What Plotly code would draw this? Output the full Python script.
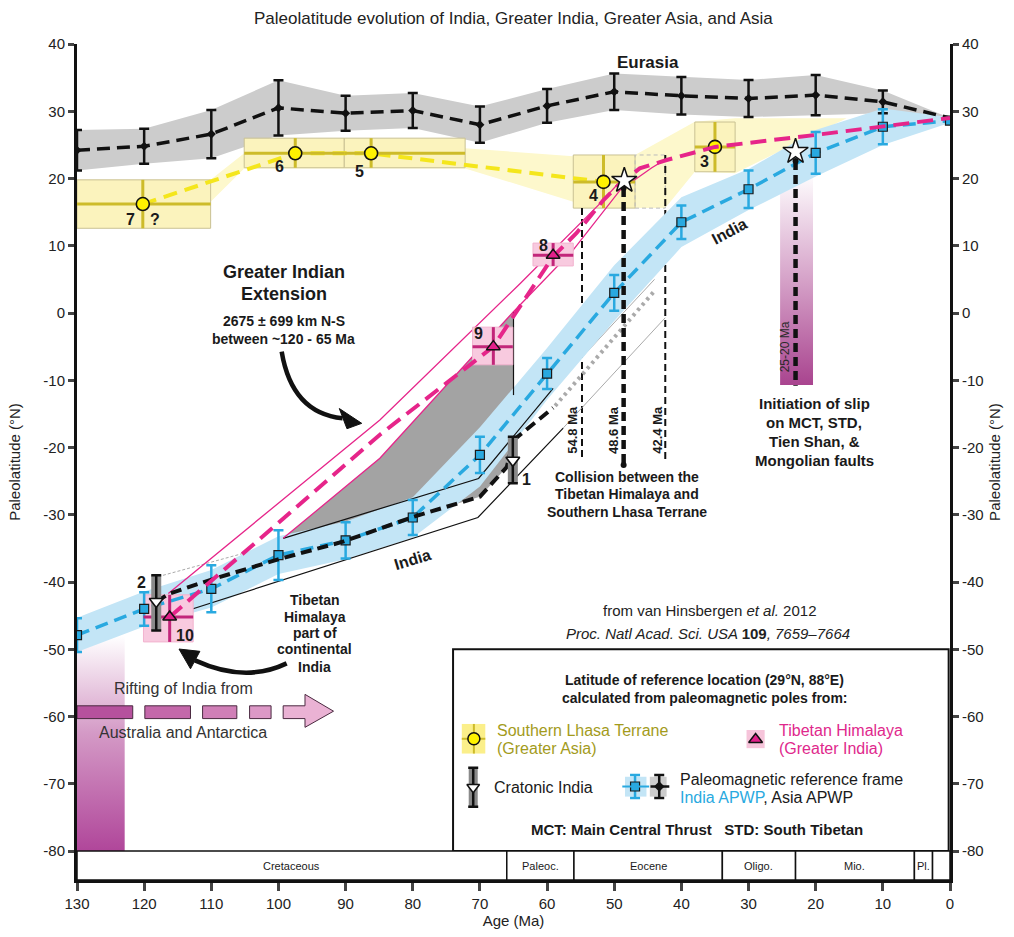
import plotly.graph_objects as go

FONT = "Liberation Sans, Arial, sans-serif"
NARROW = "Liberation Sans Narrow, Liberation Sans, Arial, sans-serif"

# ---------------- data ----------------
apwp_age = [130, 120, 110, 100, 90, 80, 70, 60, 50, 40, 30, 20, 10, 0]
asia_lat = [24.2, 24.8, 26.6, 30.5, 29.7, 30.1, 28.0, 30.8, 32.9, 32.3, 31.9, 32.4, 31.4, 29.0]
asia_err = [3.0, 2.6, 3.6, 4.1, 2.6, 2.6, 2.7, 2.5, 2.7, 2.8, 2.75, 3.0, 1.7, 0.0]
india_lat = [-47.9, -44.0, -41.0, -36.0, -33.8, -30.4, -21.1, -9.0, 3.0, 13.5, 18.4, 23.8, 27.7, 28.6]
india_err = [2.5, 2.5, 3.5, 3.7, 2.7, 2.6, 2.7, 2.3, 2.65, 2.5, 2.8, 3.1, 2.6, 0.0]
india_band_hi = [-45.3, -41.4, -38.2, -33.2, -31.0, -27.4, -17.0, -5.2, 7.1, 17.2, 21.4, 27.2, 30.4, 29.1]
india_band_lo = [-50.4, -46.6, -43.8, -38.8, -36.6, -33.4, -25.8, -12.9, -1.2, 9.8, 15.3, 20.3, 25.0, 28.3]

# Southern Lhasa terrane (Greater Asia)
lhasa_id = ["7", "6", "5", "4", "3"]
lhasa_age = [120.2, 97.5, 86.2, 51.6, 35.0]
lhasa_lat = [16.2, 23.75, 23.75, 19.5, 24.7]
lhasa_age_old = [130.0, 105.1, 90.2, 56.1, 38.0]
lhasa_age_young = [110.1, 90.2, 72.2, 46.9, 32.0]
lhasa_lat_lo = [12.6, 21.6, 21.6, 15.6, 21.0]
lhasa_lat_hi = [19.8, 26.0, 26.0, 23.5, 28.4]
lhasa_band_up_age = [130, 110.1, 105.1, 72.2, 56.1, 46.9, 38.0, 32.0, 15.4]
lhasa_band_up_lat = [19.8, 19.8, 23.75, 24.5, 23.3, 23.5, 28.45, 28.95, 28.95]
lhasa_band_lo_age = [15.4, 32.0, 38.0, 42.4, 46.9, 56.1, 72.2, 105.1, 110.1, 130]
lhasa_band_lo_lat = [28.95, 20.8, 21.0, 15.6, 15.6, 16.55, 21.5, 21.5, 16.55, 12.6]

# Tibetan Himalaya (Greater India)
th_id = ["10", "9", "8"]
th_age = [116.2, 68.0, 59.1]
th_lat = [-45.2, -5.0, 8.6]
th_age_old = [120.1, 71.1, 62.1]
th_age_young = [112.7, 65.1, 56.1]
th_lat_lo = [-48.9, -7.7, 7.0]
th_lat_hi = [-41.9, -2.1, 10.4]
th_path_age = [116.2, 84.9, 68.0, 59.1, 55.6, 51.6, 49.1, 46.2, 42.2, 37.2, 35.0, 19.85, 10.0, 0.0]
th_path_lat = [-45.2, -18.1, -5.0, 8.4, 11.9, 16.8, 19.3, 21.5, 22.75, 24.0, 24.7, 26.5, 27.7, 29.0]
th_env_up_age = [116.4, 84.9, 64.0, 52.1, 49.1]
th_env_up_lat = [-41.7, -15.9, 4.4, 16.3, 19.6]
th_env_lo_age = [99.3, 84.9, 65.0, 56.1, 49.1, 44.4, 42.1]
th_env_lo_lat = [-33.5, -21.6, 0.2, 9.4, 18.3, 21.6, 23.0]

# Greater Indian extension polygon
gi_poly_age = [99.3, 84.9, 65.0, 65.0, 66.0, 70.0, 79.9, 90.4, 99.3]
gi_poly_lat = [-33.5, -21.6, 0.2, -18.9, -22.9, -27.3, -30.3, -34.0, -36.7]

# Cratonic India
crat_id = ["1", "2"]
crat_age = [65.1, 118.2]
crat_lat = [-21.9, -42.9]
crat_lat_lo = [-25.3, -47.2]
crat_lat_hi = [-18.4, -39.0]
crat_path_age = [118.2, 116.2, 110.2, 100.3, 90.4, 79.9, 70.0, 66.0, 65.0, 59.1]
crat_path_lat = [-42.9, -41.7, -39.7, -36.7, -34.0, -30.3, -27.3, -22.9, -18.9, -14.1]

# India outline
india_n_age = [99.3, 70.2, 59.1]
india_n_lat = [-33.5, -24.6, -11.2]
india_s_age = [114.7, 70.3, 57.6]
india_s_lat = [-44.6, -30.4, -17.1]
india_n_ext_age = [59.1, 44.0]
india_n_ext_lat = [-11.2, 5.0]
india_s_ext_age = [57.6, 42.4]
india_s_ext_lat = [-17.1, -0.7]
india_mid_age = [58.8, 43.9]
india_mid_lat = [-13.8, 3.4]
link_age = [117.2, 100.0]
link_lat = [-39.0, -34.3]

# collision / slip
coll_age = [54.8, 48.6, 42.4]
coll_top = [15.6, 18.6, 23.5]
coll_bot = [-21.6, -22.6, -21.9]
coll_lbl = ["54.8 Ma", "48.6 Ma", "42.4 Ma"]
slip_age = [23.0]
slip_top = [22.6]
slip_bot = [-10.8]
slip_bar_age = [25.3, 20.4]
slip_bar_lat = [21.0, -10.7]
star_age = [48.5, 23.0]
star_lat = [19.7, 24.0]

# rifting of India
rift_bar_age = [130.0, 122.9]
rift_bar_lat = [-48.0, -80.0]
rift_old = [130.0, 119.9, 111.3, 104.3]
rift_young = [121.7, 113.1, 106.2, 101.1]
rift_col = ["#b6519d", "#c468aa", "#d07fb7", "#dc98c6"]

# geological time scale
epoch_bnd = [130, 66, 56, 33.9, 23, 5.3, 2.6, 0]
epoch_name = ["Cretaceous", "Paleoc.", "Eocene", "Oligo.", "Mio.", "Pl.", ""]

x_ticks = list(range(0, 131, 10))
y_ticks = list(range(-80, 41, 10))
y_ticktext = [str(v) for v in y_ticks]
Y_MIN, Y_MAX = -84.3, 40

# ---------------- colours ----------------
BLUE = "#29a9e0"
MAG = "#e6258a"
MAG_BAR = "#c2267a"
YEL = "#f4e61c"
YEL_BAR = "#cdbb2a"

fig = go.Figure()


def poly(xs, ys, fill, lc=None, lw=0, **kw):
    fig.add_trace(go.Scatter(x=xs, y=ys, mode="lines", fill="toself", fillcolor=fill,
                             line=dict(color=lc or fill, width=lw), hoverinfo="skip",
                             showlegend=False, **kw))


def line(xs, ys, color, width, dash="solid", **kw):
    fig.add_trace(go.Scatter(x=xs, y=ys, mode="lines", line=dict(color=color, width=width, dash=dash),
                             hoverinfo="skip", showlegend=False, **kw))


def rect_xy(a0, a1, l0, l1):
    return [a0, a1, a1, a0, a0], [l0, l0, l1, l1, l0]


# gradient bars
xs, ys = rect_xy(rift_bar_age[0], rift_bar_age[1], rift_bar_lat[0], rift_bar_lat[1])
poly(xs, ys, "rgba(0,0,0,0)", fillgradient=dict(type="vertical",
     colorscale=[[0, "#b0469a"], [0.55, "#d49ac6"], [1, "#ffffff"]]))
xs, ys = rect_xy(slip_bar_age[0], slip_bar_age[1], slip_bar_lat[0], slip_bar_lat[1])
poly(xs, ys, "rgba(0,0,0,0)", fillgradient=dict(type="vertical",
     colorscale=[[0, "#a9448f"], [0.5, "#d6a3c9"], [1, "#ffffff"]]))

# Eurasia grey band
a_hi = [l + e for l, e in zip(asia_lat, asia_err)]
a_lo = [l - e for l, e in zip(asia_lat, asia_err)]
poly(apwp_age + apwp_age[::-1], a_hi + a_lo[::-1], "#cccccc")

# Lhasa yellow band and boxes
poly(lhasa_band_up_age + lhasa_band_lo_age, lhasa_band_up_lat + lhasa_band_lo_lat, "#fdf8cc")
for a0, a1, l0, l1 in zip(lhasa_age_old, lhasa_age_young, lhasa_lat_lo, lhasa_lat_hi):
    xs, ys = rect_xy(a0, a1, l0, l1)
    poly(xs, ys, "#fbf3bd", lc="#c9c193", lw=1)
xs, ys = rect_xy(lhasa_age_young[3], coll_age[2], lhasa_lat_lo[3], lhasa_lat_hi[3])
line(xs, ys, "#bbbbbb", 1, dash="4px,3px")

# Greater India polygon
poly(gi_poly_age, gi_poly_lat, "#a3a3a3")

# thin collision lines (below India band)
for i in (0, 2):
    line([coll_age[i], coll_age[i]], [coll_top[i], coll_bot[i]], "#111111", 2, dash="7px,4px")

# grey India extension lines
line(india_n_ext_age, india_n_ext_lat, "#aaaaaa", 1)
line(india_s_ext_age, india_s_ext_lat, "#aaaaaa", 1)
line(india_mid_age, india_mid_lat, "#aaaaaa", 4, dash="3px,4px")
line(link_age, link_lat, "#aaaaaa", 1, dash="3px,2px")

# India APWP band
poly(apwp_age + apwp_age[::-1], india_band_hi + india_band_lo[::-1], "#c3e5f6")

# India outlines
line(india_n_age, india_n_lat, "#111111", 1.2)
line(india_s_age, india_s_lat, "#111111", 1.2)
line([gi_poly_age[2], gi_poly_age[2]], [gi_poly_lat[2], -12.2], "#111111", 1.2)

# Tibetan Himalaya envelope
line(th_env_up_age, th_env_up_lat, MAG, 1.3)
line(th_env_lo_age, th_env_lo_lat, MAG, 1.3)

# Tibetan Himalaya boxes
for a0, a1, l0, l1 in zip(th_age_old, th_age_young, th_lat_lo, th_lat_hi):
    xs, ys = rect_xy(a0, a1, l0, l1)
    poly(xs, ys, "#f8cadf", lc="#f2b3cf", lw=1)

# yellow dashed Lhasa path
line(lhasa_age[:4], lhasa_lat[:4], YEL, 4, dash="14px,8px")

# Eurasia path
line(apwp_age, asia_lat, "#111111", 3.5, dash="13px,7px")
fig.add_trace(go.Scatter(x=apwp_age[:-1], y=asia_lat[:-1], mode="markers",
                         marker=dict(symbol="diamond", size=7, color="#111111"),
                         error_y=dict(type="data", array=asia_err[:-1], color="#111111", thickness=2.5, width=5),
                         hoverinfo="skip", showlegend=False))

# India APWP path
line(apwp_age, india_lat, BLUE, 3.5, dash="13px,7px")
fig.add_trace(go.Scatter(x=apwp_age, y=india_lat, mode="markers",
                         marker=dict(symbol="square", size=9, color=BLUE, line=dict(color="#1a1a1a", width=1.2)),
                         error_y=dict(type="data", array=india_err, color=BLUE, thickness=2.5, width=5),
                         hoverinfo="skip", showlegend=False))

# Cratonic India path
line(crat_path_age, crat_path_lat, "#111111", 4, dash="11px,6px")

# Lhasa bars and markers
bx, by = [], []
for a, l, a0, a1, l0, l1 in zip(lhasa_age, lhasa_lat, lhasa_age_old, lhasa_age_young, lhasa_lat_lo, lhasa_lat_hi):
    bx += [a0, a1, None, a, a, None]
    by += [l, l, None, l0, l1, None]
line(bx, by, YEL_BAR, 3)
fig.add_trace(go.Scatter(x=lhasa_age, y=lhasa_lat, mode="markers",
                         marker=dict(symbol="circle", size=13, color="#fff200", line=dict(color="#111111", width=1.6)),
                         hoverinfo="skip", showlegend=False))

# Tibetan Himalaya path
line(th_path_age, th_path_lat, MAG, 4, dash="16px,8px")
bx, by = [], []
for a, l, a0, a1, l0, l1 in zip(th_age, th_lat, th_age_old, th_age_young, th_lat_lo, th_lat_hi):
    bx += [a0, a1, None, a, a, None]
    by += [l, l, None, l0, l1, None]
line(bx, by, MAG_BAR, 3)
fig.add_trace(go.Scatter(x=th_age, y=th_lat, mode="markers",
                         marker=dict(symbol="triangle-up", size=12, color="#e2208a", line=dict(color="#111111", width=1.5)),
                         hoverinfo="skip", showlegend=False))

# Cratonic India bars and markers
bx, by = [], []
for a, l0, l1 in zip(crat_age, crat_lat_lo, crat_lat_hi):
    bx += [a, a, None]
    by += [l0, l1, None]
line(bx, by, "#8a8a8a", 10)
fig.add_trace(go.Scatter(x=crat_age, y=crat_lat, mode="markers",
                         marker=dict(symbol="triangle-down", size=12, color="white", line=dict(color="#111111", width=1.6)),
                         error_y=dict(type="data", symmetric=False,
                                      array=[h - l for h, l in zip(crat_lat_hi, crat_lat)],
                                      arrayminus=[l - lo for l, lo in zip(crat_lat, crat_lat_lo)],
                                      color="#111111", thickness=2.5, width=5),
                         hoverinfo="skip", showlegend=False))

# thick collision / slip lines
line([coll_age[1], coll_age[1]], [coll_top[1], coll_bot[1]], "#111111", 4.5, dash="9px,5px")
line([slip_age[0], slip_age[0]], [slip_top[0], slip_bot[0]], "#111111", 4.5, dash="9px,5px")
fig.add_trace(go.Scatter(x=[coll_age[1], coll_age[1], slip_age[0]], y=[coll_top[1], coll_bot[1], slip_top[0]],
                         mode="markers", marker=dict(size=6, color="#111111"), hoverinfo="skip", showlegend=False))
fig.add_trace(go.Scatter(x=star_age, y=star_lat, mode="markers",
                         marker=dict(symbol="star", size=19, color="white", line=dict(color="#111111", width=1.5)),
                         hoverinfo="skip", showlegend=False))

# ---------------- legend icons ----------------
xs, ys = rect_xy(72.7, 69.2, -61.1, -65.5)
poly(xs, ys, "#fbef8a")
line([72.7, 69.2, None, 70.9, 70.9], [-63.3, -63.3, None, -61.1, -65.5], YEL_BAR, 2)
fig.add_trace(go.Scatter(x=[70.9], y=[-63.3], mode="markers",
                         marker=dict(symbol="circle", size=12, color="#fff200", line=dict(color="#111111", width=1.5)),
                         hoverinfo="skip", showlegend=False))
xs, ys = rect_xy(30.3, 27.6, -62.0, -64.7)
poly(xs, ys, "#f6c4da")
fig.add_trace(go.Scatter(x=[28.95], y=[-63.4], mode="markers",
                         marker=dict(symbol="triangle-up", size=12, color="#e2208a", line=dict(color="#111111", width=1.5)),
                         hoverinfo="skip", showlegend=False))
line([71.0, 71.0], [-67.7, -73.4], "#8a8a8a", 9)
fig.add_trace(go.Scatter(x=[71.0], y=[-70.5], mode="markers",
                         marker=dict(symbol="triangle-down", size=11, color="white", line=dict(color="#111111", width=1.5)),
                         error_y=dict(type="constant", value=2.9, color="#111111", thickness=2.5, width=5),
                         hoverinfo="skip", showlegend=False))
xs, ys = rect_xy(48.4, 45.2, -68.95, -71.9)
poly(xs, ys, "#c3e5f6")
xs, ys = rect_xy(44.7, 42.2, -68.95, -71.9)
poly(xs, ys, "#cccccc")
fig.add_trace(go.Scatter(x=[46.9], y=[-70.4], mode="markers",
                         marker=dict(symbol="square", size=9, color=BLUE, line=dict(color="#1a1a1a", width=1.2)),
                         error_y=dict(type="constant", value=1.7, color=BLUE, thickness=2.5, width=5),
                         hoverinfo="skip", showlegend=False))
line([48.8, 44.8], [-70.4, -70.4], BLUE, 2)
fig.add_trace(go.Scatter(x=[43.3], y=[-70.4], mode="markers",
                         marker=dict(symbol="diamond", size=8, color="#111111"),
                         error_y=dict(type="constant", value=1.7, color="#111111", thickness=2.5, width=5),
                         hoverinfo="skip", showlegend=False))
line([44.6, 41.8], [-70.4, -70.4], "#111111", 2.5)

# dummy trace for right axis
fig.add_trace(go.Scatter(x=[0], y=[0], yaxis="y2", mode="markers", marker=dict(opacity=0),
                         hoverinfo="skip", showlegend=False))

# ---------------- shapes ----------------
shapes = []
shapes.append(dict(type="rect", xref="x", yref="y", x0=74.0, x1=0.2, y0=-80, y1=-50.0,
                   line=dict(color="#111111", width=2), fillcolor="rgba(0,0,0,0)", layer="above"))
for a0, a1, c in zip(rift_old, rift_young, rift_col):
    shapes.append(dict(type="rect", xref="x", yref="y", x0=a0, x1=a1, y0=-58.4, y1=-60.3,
                       line=dict(color="#4a2a40", width=1), fillcolor=c))
shapes.append(dict(type="path", xref="x", yref="y",
                   path="M 99.3,-58.4 L 96.05,-58.4 L 96.05,-56.7 L 91.8,-59.2 L 96.05,-61.6 L 96.05,-60.3 L 99.3,-60.3 Z",
                   line=dict(color="#4a2a40", width=1), fillcolor="#eab2d4"))
shapes.append(dict(type="path", xref="x", yref="y", path="M 99.52,-5.75 Q 97.99,-14.9 90.45,-15.66",
                   line=dict(color="#111111", width=4.5)))
shapes.append(dict(type="path", xref="x", yref="y", path="M 87.6,-16.4 L 90.94,-14.2 L 89.8,-17.2 Z",
                   line=dict(color="#111111", width=1), fillcolor="#111111"))
shapes.append(dict(type="path", xref="x", yref="y", path="M 98.78,-52.09 Q 104.96,-55.06 112.43,-51.64",
                   line=dict(color="#111111", width=4.5)))
shapes.append(dict(type="path", xref="x", yref="y", path="M 114.81,-49.96 L 111.7,-50.3 L 113.1,-52.9 Z",
                   line=dict(color="#111111", width=1), fillcolor="#111111"))
for a0, a1 in zip(epoch_bnd[:-1], epoch_bnd[1:]):
    shapes.append(dict(type="rect", xref="x", yref="y", x0=a0, x1=a1, y0=Y_MIN, y1=-80,
                       line=dict(color="#111111", width=1.5), fillcolor="white"))

# ---------------- annotations ----------------
ann = []


def txt(x, y, t, size=14, bold=False, color="#1a1a1a", angle=0, xanchor="center", family=FONT):
    ann.append(dict(x=x, y=y, xref="x", yref="y", text=("<b>%s</b>" % t) if bold else t,
                    showarrow=False, textangle=angle, xanchor=xanchor, yanchor="middle",
                    font=dict(family=family, size=size, color=color)))


for a0, a1, n in zip(epoch_bnd[:-1], epoch_bnd[1:], epoch_name):
    if n:
        txt((a0 + a1) / 2, -82.15, n, size=11, family=NARROW)

num_pos = {"1": (63.0, -24.8), "2": (120.4, -40.0), "10": (113.9, -47.9), "9": (70.25, -3.0),
           "8": (60.6, 10.1), "4": (53.1, 17.5), "3": (36.6, 22.5), "6": (99.8, 21.8),
           "5": (88.0, 21.0), "7": (122.0, 13.9)}
for k, (x, y) in num_pos.items():
    txt(x, y, k, size=16, bold=True)
txt(118.4, 13.9, "?", size=16, bold=True)

txt(44.97, 37.3, "Eurasia", size=17, bold=True)
txt(99.2, 6.1, "Greater Indian", size=18, bold=True)
txt(99.2, 2.9, "Extension", size=18, bold=True)
txt(99.2, -1.2, "2675 ± 699 km N-S", size=14, bold=True)
txt(99.2, -3.9, "between ~120 - 65 Ma", size=14, bold=True)
for y, t in zip([-42.68, -45.16, -47.54, -50.01, -52.59],
                ["Tibetan", "Himalaya", "part of", "continental", "India"]):
    txt(94.56, y, t, size=14, bold=True)
for y, t in zip([-13.43, -16.31, -19.14, -21.96],
                ["Initiation of slip", "on MCT, STD,", "Tien Shan, &", "Mongolian faults"]):
    txt(20.25, y, t, size=15, bold=True)
for y, t in zip([-24.34, -26.96, -29.55],
                ["Collision between the", "Tibetan Himalaya and", "Southern Lhasa Terrane"]):
    txt(48.1, y, t, size=14, bold=True)
for a, t in zip([56.34, 50.19, 43.68], coll_lbl):
    txt(a, -17.4, t, size=13, bold=True, angle=-90)
txt(24.57, -5.1, "25-20 Ma", size=12, angle=-90, color="#2a2a2a")
txt(32.9, 12.05, "India", size=16, bold=True, angle=-28)
txt(80.0, -36.7, "India", size=16, bold=True, angle=-17)
txt(114.2, -55.8, "Rifting of India from", size=16, color="#333333")
txt(114.2, -62.4, "Australia and Antarctica", size=16, color="#333333")
txt(35.74, -44.27, "from van Hinsbergen <i>et al.</i> 2012", size=15, color="#222222")
txt(35.99, -47.63, "<i>Proc. Natl Acad. Sci. USA </i><b>109</b><i>, 7659–7664</i>", size=15, color="#222222")
txt(36.49, -54.57, "Latitude of reference location (29°N, 88°E)", size=14, bold=True)
txt(36.49, -57.29, "calculated from paleomagnetic poles from:", size=14, bold=True)
txt(67.76, -62.11, "Southern Lhasa Terrane", size=16, color="#a39b1c", xanchor="left")
txt(67.76, -64.73, "(Greater Asia)", size=16, color="#a39b1c", xanchor="left")
txt(25.81, -62.11, "Tibetan Himalaya", size=16, color="#e0288c", xanchor="left")
txt(25.81, -64.73, "(Greater India)", size=16, color="#e0288c", xanchor="left")
txt(68.25, -70.53, "Cratonic India", size=16, xanchor="left")
txt(40.46, -69.29, "Paleomagnetic reference frame", size=16, xanchor="left")
txt(40.46, -72.01, "<span style='color:%s'>India APWP</span>, Asia APWP" % BLUE, size=16, xanchor="left")
txt(37.68, -76.77, "MCT: Main Central Thrust&nbsp;&nbsp;&nbsp;STD: South Tibetan", size=15, bold=True)

ann.append(dict(x=0.5, y=1.0, xref="paper", yref="paper", yshift=26, showarrow=False,
                text="Paleolatitude evolution of India, Greater India, Greater Asia, and Asia",
                font=dict(family=FONT, size=17, color="#222222"), xanchor="center", yanchor="middle"))

axis_font = dict(family=NARROW, size=15, color="#222222")
title_font = dict(family=FONT, size=15, color="#222222")
fig.update_layout(
    template="none",
    width=1014, height=937,
    margin=dict(l=77, r=64, t=44, b=57),
    paper_bgcolor="white", plot_bgcolor="white",
    showlegend=False,
    shapes=shapes, annotations=ann,
    xaxis=dict(range=[130, 0], tickvals=x_ticks, ticks="outside", ticklen=8, tickwidth=2.5,
               showline=True, linewidth=2.5, linecolor="#111111", showgrid=False, zeroline=False,
               automargin=False, tickfont=axis_font,
               title=dict(text="Age (Ma)", font=dict(family=NARROW, size=15, color="#222222"), standoff=2)),
    yaxis=dict(range=[Y_MIN, Y_MAX], tickvals=y_ticks, ticktext=y_ticktext, ticks="outside", ticklen=6,
               tickwidth=2.5, showline=True, linewidth=3, linecolor="#111111", showgrid=False, zeroline=False,
               automargin=False, tickfont=axis_font,
               title=dict(text="Paleolatitude (°N)", font=title_font, standoff=20)),
    yaxis2=dict(range=[Y_MIN, Y_MAX], tickvals=y_ticks, ticktext=y_ticktext, ticks="outside", ticklen=6,
                tickwidth=2.5, overlaying="y", side="right", anchor="x",
                showline=True, linewidth=3, linecolor="#111111", showgrid=False, zeroline=False,
                automargin=False, tickfont=axis_font,
                title=dict(text="Paleolatitude (°N)", font=title_font)),
)

fig.write_html("out.html", config={"displayModeBar": False},
               post_script="document.body.style.margin='0';document.body.style.overflow='hidden';")
